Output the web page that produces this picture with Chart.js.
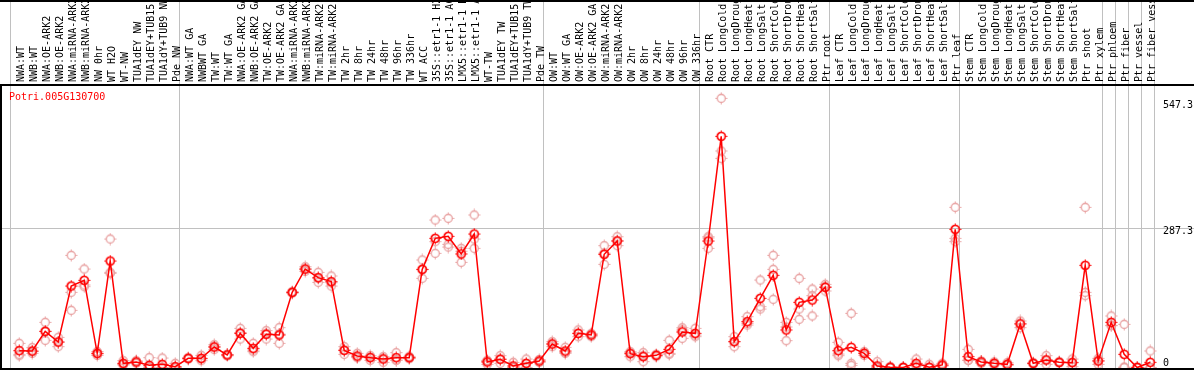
<!DOCTYPE html>
<html>
<head>
<meta charset="utf-8">
<script src="https://cdn.jsdelivr.net/npm/chart.js@4.4.1/dist/chart.umd.min.js"></script>
<style>
  body { margin: 0; background: #fff; }
  canvas { display: block; }
</style>
</head>
<body>
<canvas id="myChart" width="1194" height="370"></canvas>
<script>
const geneId = 'Potri.005G130700';

const categories = [
  'NWA:WT', 'NWB:WT', 'NWA:OE-ARK2', 'NWB:OE-ARK2', 'NWA:miRNA-ARK2', 'NWB:miRNA-ARK2',
  'NW 0hr', 'WT H2O', 'WT-NW', 'TUA1dEY NW', 'TUA1dEY+TUB15 NW', 'TUA1dY+TUB9 NW', 'Pde NW',
  'NWA:WT GA', 'NWBWT GA', 'TW:WT', 'TW:WT GA', 'NWA:OE-ARK2 GA', 'NWB:OE-ARK2 GA',
  'TW:OE-ARK2', 'TW:OE-ARK2 GA', 'NWA:miRNA-ARK2', 'NWB:miRNA-ARK2', 'TW:miRNA-ARK2',
  'TW:miRNA-ARK2', 'TW 2hr', 'TW 8hr', 'TW 24hr', 'TW 48hr', 'TW 96hr', 'TW 336hr',
  'WT ACC', '35S::etr1-1 H2O', '35S::etr1-1 ACC', 'LMX5::etr1-1 H2O', 'LMX5::etr1-1 ACC',
  'WT-TW', 'TUA1dEY TW', 'TUA1dEY+TUB15 TW', 'TUA1dY+TUB9 TW', 'Pde TW',
  'OW:WT', 'OW:WT GA', 'OW:OE-ARK2', 'OW:OE-ARK2 GA', 'OW:miRNA-ARK2', 'OW:miRNA-ARK2',
  'OW 2hr', 'OW 8hr', 'OW 24hr', 'OW 48hr', 'OW 96hr', 'OW 336hr',
  'Root CTR', 'Root LongCold', 'Root LongDrought', 'Root LongHeat', 'Root LongSalt',
  'Root ShortCold', 'Root ShortDrought', 'Root ShortHeat', 'Root ShortSalt', 'Ptr root',
  'Leaf CTR', 'Leaf LongCold', 'Leaf LongDrought', 'Leaf LongHeat', 'Leaf LongSalt',
  'Leaf ShortCold', 'Leaf ShortDrought', 'Leaf ShortHeat', 'Leaf ShortSalt', 'Ptr leaf',
  'Stem CTR', 'Stem LongCold', 'Stem LongDrought', 'Stem LongHeat', 'Stem LongSalt',
  'Stem ShortCold', 'Stem ShortDrought', 'Stem ShortHeat', 'Stem ShortSalt', 'Ptr shoot',
  'Ptr xylem', 'Ptr phloem', 'Ptr fiber', 'Ptr vessel', 'Ptr fiber vessel'
];

// mean expression per sample
const means = [
  34.7, 34.0, 74.6, 52.6, 168.2, 179.9, 29.2, 219.8, 8.6, 11.4, 4.5, 6.5, 1.7,
  18.9, 18.9, 42.3, 25.8, 70.5, 39.6, 68.5, 67.1, 155.1, 203.3, 185.4, 177.2,
  35.4, 23.7, 20.3, 17.5, 20.3, 20.3, 202.6, 266.6, 270.7, 234.3, 275.5,
  11.4, 16.9, 3.1, 8.6, 13.4,
  48.5, 34.0, 70.5, 67.1, 233.6, 261.1, 28.6, 22.4, 25.1, 37.5, 73.3, 70.5,
  261.1, 477.1, 53.3, 94.6, 142.8, 190.2, 77.4, 134.5, 139.3, 165.5,
  34.7, 41.6, 29.2, 3.1, 0.5, 0, 8.6, 0.5, 5.2, 285.2,
  22.4, 11.4, 8.6, 6.5, 89.8, 8.6, 15.5, 10.7, 10.0, 210.9,
  13.4, 93.2, 27.2, 0, 10.7
];

// individual replicates
const rep1 = [
  49.9, 40.9, 93.2, 62.3, 231.5, 203.3, 33, 265.2, 14.1, 14, 20.3, 19.6, 8.6,
  20.3, 25.1, 47, 27, 80.8, 49.9, 76.0, 82.2, 156.5, 208, 196.4, 188.9,
  43.0, 29.2, 24.4, 22.4, 30.6, 23, 221.9, 304.4, 307.9, 246.0, 314.8,
  14.8, 24.4, 10.7, 17.5, 16.5,
  53.3, 41.6, 77.4, 70.5, 251.5, 270.0, 32.7, 30.6, 27.2, 56.1, 77.4, 80.8,
  270.0, 555.5, 63.6, 104.9, 180.6, 231.5, 93.2, 184.0, 162.0, 171.7,
  51.9, 111.8, 32.7, 12.0, 1.7, 1, 17.5, 6.5, 8.6, 330.6,
  37.5, 12.9, 11.4, 9.9, 96.0, 10, 24.4, 12, 17.5, 330.6,
  18.9, 106.3, 89.1, 0, 34.1
];
const rep2 = [
  27.2, 29.2, 56.1, 43.0, 155.1, 170.3, 28, 196.4, 5.2, 9, 0.8, 0, 0,
  17.5, 14.1, 37, 24, 58.8, 32.7, 58.8, 49.9, 153.5, 198.5, 175.8, 168.2,
  27.2, 20.3, 14.8, 10.7, 15.1, 18.3, 184.0, 235.6, 254.2, 217.1, 265.2,
  6.5, 8.6, 0, 0, 10.5,
  43.0, 29.2, 63.6, 63.6, 212.9, 251.5, 22.4, 12.0, 22.4, 27.2, 60.2, 63.6,
  246.0, 446.9, 43.0, 91.2, 125.6, 202.6, 55.4, 120.7, 148.3, 157.9,
  24.4, 8.6, 25.1, 0, 0, 0, 5.2, 0, 4, 266.6,
  15.1, 8.6, 5.2, 4.5, 82.2, 7.5, 6.5, 9.7, 1.7, 155.1,
  6.5, 86.3, 1, 0, 0
];
const rep3 = [
  24.4, 33, 74.6, 52.6, 118.0, 166.8, 25, 194.4, 6.5, 11, 0, 0, 0,
  18.9, 18, 43, 26, 72, 36, 70.5, 69, 155, 203, 184, 175,
  36, 21.6, 21, 19, 15.2, 19.6, 202, 259.7, 248.7, 240, 246.0,
  12.9, 17.5, 0, 8, 13.2,
  49, 31, 70.5, 67, 236, 261.8, 30.7, 24.6, 25.7, 29.2, 82, 67,
  267.3, 431.7, 53.3, 87.7, 120.7, 140.7, 83.6, 99.4, 106.3, 167,
  27.8, 4.4, 29.8, 0, 0, 0, 3.1, 0, 3, 259.7,
  14.6, 12.7, 9.2, 5.1, 91.2, 8.3, 15.6, 10.4, 10.8, 148.3,
  14.8, 87, 0, 1, 0
];

// group separators (index of the first sample after a boundary)
const separators = [0, 13, 41, 53, 63, 73, 84, 85, 86, 87, 88];
const yTicks = [0, 287.3, 547.3];

function marker(color, lw) {
  const c = document.createElement('canvas');
  c.width = 13; c.height = 13;
  const g = c.getContext('2d');
  g.strokeStyle = color;
  g.lineWidth = lw;
  g.beginPath();
  g.arc(6.5, 6.5, 4, 0, Math.PI * 2);
  g.stroke();
  g.lineWidth = 1;
  g.beginPath();
  g.moveTo(6.5, 0.5); g.lineTo(6.5, 2.5);
  g.moveTo(6.5, 10.5); g.lineTo(6.5, 12.5);
  g.moveTo(0.5, 6.5); g.lineTo(2.5, 6.5);
  g.moveTo(10.5, 6.5); g.lineTo(12.5, 6.5);
  g.stroke();
  return c;
}
const mainMarker = marker('#ff0000', 1.7);
const repMarker = marker('#e8a0a0', 1.3);

const toPoints = arr => arr.map((v, i) => ({x: i, y: v}));

const xMin = -1.4;
const xMax = xMin + 1193 / 13;
// rotated tick labels sit left of their tick, so the label axis is shifted
const labelShift = 13.8 / 13;

const framePlugin = {
  id: 'frame',
  afterDraw(chart) {
    const ctx = chart.ctx;
    const area = chart.chartArea;
    const y = chart.scales.y;
    ctx.save();
    ctx.strokeStyle = '#000';
    ctx.lineWidth = 2;
    ctx.beginPath();
    ctx.moveTo(0, 1); ctx.lineTo(chart.width, 1);
    ctx.moveTo(0, area.bottom); ctx.lineTo(chart.width, area.bottom);
    ctx.stroke();

    ctx.font = '10px "DejaVu Sans Mono"';
    ctx.textBaseline = 'middle';
    ctx.textAlign = 'left';
    ctx.fillStyle = '#ff0000';
    ctx.fillText(geneId, 9, 97);

    ctx.fillStyle = '#000';
    for (const v of yTicks) {
      const py = y.getPixelForValue(v) + (v === 0 ? -4 : 3.5);
      ctx.fillText(String(v), 1163, py);
    }
    ctx.restore();
  }
};

Chart.defaults.font.family = '"DejaVu Sans Mono", monospace';
Chart.defaults.font.size = 10;
Chart.defaults.color = '#000';

const myChartRef = document.getElementById('myChart').getContext('2d');
new Chart(myChartRef, {
  type: 'line',
  data: {
    datasets: [{
      label: geneId,
      data: toPoints(means),
      xAxisID: 'x',
      borderColor: '#ff0000',
      borderWidth: 1.5,
      pointStyle: mainMarker,
      tension: 0,
      order: 0
    }, {
      label: 'rep1',
      data: toPoints(rep1),
      xAxisID: 'x',
      showLine: false,
      pointStyle: repMarker,
      order: 1
    }, {
      label: 'rep2',
      data: toPoints(rep2),
      xAxisID: 'x',
      showLine: false,
      pointStyle: repMarker,
      order: 1
    }, {
      label: 'rep3',
      data: toPoints(rep3),
      xAxisID: 'x',
      showLine: false,
      pointStyle: repMarker,
      order: 1
    }]
  },
  options: {
    responsive: false,
    animation: false,
    layout: {autoPadding: false, padding: {left: 1, right: 0, top: 0, bottom: 1}},
    plugins: {
      legend: {display: false},
      tooltip: {enabled: false}
    },
    scales: {
      x: {
        type: 'linear',
        display: false,
        bounds: 'data',
        min: xMin,
        max: xMax
      },
      xl: {
        type: 'linear',
        position: 'top',
        weight: 1,
        bounds: 'data',
        min: xMin - labelShift,
        max: xMax - labelShift,
        grid: {display: false, drawTicks: false},
        border: {display: false},
        afterBuildTicks: s => { s.ticks = categories.map((c, i) => ({value: i})); },
        afterFit: s => { s.height = 85; },
        ticks: {
          autoSkip: false,
          minRotation: 90,
          maxRotation: 90,
          padding: 3,
          color: '#000',
          font: {size: 10},
          callback: v => categories[v]
        }
      },
      xg: {
        type: 'linear',
        position: 'top',
        weight: 0,
        bounds: 'data',
        min: xMin,
        max: xMax,
        afterBuildTicks: s => { s.ticks = separators.map(k => ({value: k - 0.654})); },
        afterFit: s => { s.height = 0; },
        grid: {color: '#c0c0c0', lineWidth: 1, drawTicks: true, tickLength: 85},
        border: {display: true, color: '#000', width: 2},
        ticks: {display: false}
      },
      y: {
        type: 'linear',
        position: 'left',
        bounds: 'data',
        min: -3.1,
        max: 583.1,
        afterBuildTicks: s => { s.ticks = yTicks.map(v => ({value: v})); },
        afterFit: s => { s.width = 0; },
        grid: {
          color: c => (c.tick && c.tick.value === 287.3) ? '#c0c0c0' : 'rgba(0,0,0,0)',
          drawTicks: false
        },
        border: {display: true, color: '#000', width: 2},
        ticks: {display: false}
      }
    }
  },
  plugins: [framePlugin]
});
</script>
</body>
</html>
